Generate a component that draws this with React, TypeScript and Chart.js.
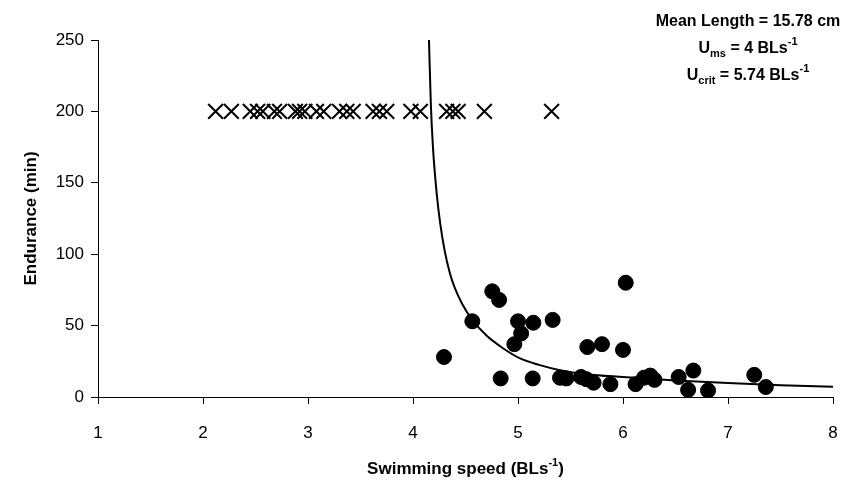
import React, { useEffect, useRef } from "react";
import { Chart, registerables } from "chart.js";

Chart.register(...registerables);

// Measured fish (swimming speed in BL/s, endurance in min)
const dotSpeed = [4.295, 4.565, 4.755, 4.82, 4.835, 4.965, 5.0, 5.03, 5.14, 5.146, 5.33, 5.4, 5.46, 5.6, 5.65, 5.66, 5.72, 5.8, 5.88, 6.0, 6.026, 6.12, 6.2, 6.26, 6.3, 6.53, 6.62, 6.67, 6.81, 7.25, 7.36];
const dotEndurance = [28, 53, 74, 68, 13, 37, 53, 44.5, 13, 52, 54, 13.5, 13, 14, 12.5, 35, 10, 37, 9, 33, 80, 9, 13.5, 15, 12, 14, 5, 18.5, 4.5, 15.5, 7];

// Fish that completed the 200-min trial
const crossSpeed = [2.12, 2.27, 2.45, 2.52, 2.57, 2.68, 2.73, 2.88, 2.92, 2.97, 3.08, 3.15, 3.3, 3.37, 3.43, 3.62, 3.68, 3.75, 3.98, 4.07, 4.32, 4.38, 4.43, 4.68, 5.32];
const crossEndurance = crossSpeed.map(() => 200);

// Fitted curve
const curveSpeed = [4.152, 4.17, 4.19, 4.225, 4.26, 4.3, 4.35, 4.4, 4.47, 4.565, 4.7, 4.85, 5.02, 5.2, 5.4, 5.65, 6.0, 6.5, 7.0, 7.5, 8.0];
const curveEndurance = [250, 205, 175, 143, 121, 103, 87, 76, 65, 54, 43, 34.5, 27, 22.5, 18.8, 16, 14, 11.6, 9.8, 8.3, 7.2];

const xTicks = [1, 2, 3, 4, 5, 6, 7, 8];
const yTicks = [0, 50, 100, 150, 200, 250];

const annoLines = [
  { main: "Mean Length = 15.78 cm", sub: "", rest: "", sup: "" },
  { main: "U", sub: "ms", rest: " = 4 BLs", sup: "-1" },
  { main: "U", sub: "crit", rest: " = 5.74 BLs", sup: "-1" },
];

const FONT = "'Liberation Sans', Arial, sans-serif";

const textPlugin = {
  id: "textPlugin",
  afterDraw(chart: any) {
    const ctx = chart.ctx as CanvasRenderingContext2D;
    const ca = chart.chartArea;
    ctx.save();
    ctx.fillStyle = "#000";
    ctx.textBaseline = "alphabetic";

    // x-axis title with superscript
    const big = `bold 17px ${FONT}`;
    const small = `bold 11px ${FONT}`;
    const p1 = "Swimming speed (BLs";
    const p2 = "-1";
    const p3 = ")";
    ctx.font = big;
    const w1 = ctx.measureText(p1).width;
    const w3 = ctx.measureText(p3).width;
    ctx.font = small;
    const w2 = ctx.measureText(p2).width;
    const total = w1 + w2 + w3;
    const cx = (ca.left + ca.right) / 2;
    let x = cx - total / 2;
    const by = 474;
    ctx.textAlign = "left";
    ctx.font = big;
    ctx.fillText(p1, x, by);
    x += w1;
    ctx.font = small;
    ctx.fillText(p2, x, by - 8);
    x += w2;
    ctx.font = big;
    ctx.fillText(p3, x, by);

    // y-axis title
    ctx.save();
    ctx.translate(36, (ca.top + ca.bottom) / 2);
    ctx.rotate(-Math.PI / 2);
    ctx.textAlign = "center";
    ctx.font = big;
    ctx.fillText("Endurance (min)", 0, 0);
    ctx.restore();

    // annotation
    const aBig = `bold 16px ${FONT}`;
    const aSmall = `bold 11px ${FONT}`;
    const centerX = 748;
    const baseYs = [26, 53, 80];
    annoLines.forEach((l, i) => {
      ctx.font = aBig;
      const wm = ctx.measureText(l.main).width;
      const wr = ctx.measureText(l.rest).width;
      ctx.font = aSmall;
      const ws = ctx.measureText(l.sub).width;
      const wp = ctx.measureText(l.sup).width;
      const tw = wm + ws + wr + wp;
      let px = centerX - tw / 2;
      const y = baseYs[i];
      ctx.textAlign = "left";
      ctx.font = aBig;
      ctx.fillText(l.main, px, y);
      px += wm;
      ctx.font = aSmall;
      if (l.sub) ctx.fillText(l.sub, px, y + 4);
      px += ws;
      ctx.font = aBig;
      ctx.fillText(l.rest, px, y);
      px += wr;
      ctx.font = aSmall;
      if (l.sup) ctx.fillText(l.sup, px, y - 8);
    });
    ctx.restore();
  },
};

export default function App() {
  const ref = useRef<HTMLCanvasElement | null>(null);

  useEffect(() => {
    document.body.style.margin = "0";
    const canvas = ref.current!;
    const chart = new Chart(canvas, {
      type: "scatter",
      data: {
        datasets: [
          {
            type: "line",
            label: "fit",
            data: curveSpeed.map((s, i) => ({ x: s, y: curveEndurance[i] })),
            borderColor: "#000",
            borderWidth: 2,
            pointRadius: 0,
            fill: false,
            cubicInterpolationMode: "monotone",
            order: 3,
          } as any,
          {
            label: "fatigued",
            data: dotSpeed.map((s, i) => ({ x: s, y: dotEndurance[i] })),
            backgroundColor: "#000",
            borderColor: "#000",
            pointRadius: 7.5,
            pointStyle: "circle",
            order: 1,
          },
          {
            label: "completed",
            data: crossSpeed.map((s, i) => ({ x: s, y: crossEndurance[i] })),
            backgroundColor: "#000",
            borderColor: "#000",
            borderWidth: 2,
            pointRadius: 10.5,
            pointStyle: "crossRot",
            order: 2,
          },
        ],
      },
      options: {
        responsive: false,
        animation: false,
        devicePixelRatio: 1,
        layout: { autoPadding: false, padding: { left: 0, right: 14, top: 40, bottom: 0 } },
        plugins: { legend: { display: false }, tooltip: { enabled: false } },
        scales: {
          x: {
            type: "linear",
            min: 1,
            max: 8,
            afterBuildTicks: (s: any) => {
              s.ticks = xTicks.map((v) => ({ value: v }));
            },
            afterFit: (s: any) => {
              s.height = 86;
              s.paddingRight = 0;
              s.paddingLeft = 0;
            },
            ticks: { color: "#000", font: { family: FONT, size: 17 }, padding: 19 },
            grid: { drawOnChartArea: false, drawTicks: true, tickLength: 7, color: "#000" },
            border: { display: true, color: "#000", width: 1 },
          },
          y: {
            type: "linear",
            min: 0,
            max: 250,
            afterBuildTicks: (s: any) => {
              s.ticks = yTicks.map((v) => ({ value: v }));
            },
            afterFit: (s: any) => {
              s.width = 98;
              s.paddingTop = 0;
              s.paddingBottom = 0;
            },
            ticks: { color: "#000", font: { family: FONT, size: 17 }, padding: 7 },
            grid: { drawOnChartArea: false, drawTicks: true, tickLength: 7, color: "#000" },
            border: { display: true, color: "#000", width: 1 },
          },
        },
      },
      plugins: [textPlugin],
    });
    return () => chart.destroy();
  }, []);

  return <canvas ref={ref} width={847} height={483} style={{ display: "block", width: 847, height: 483 }} />;
}
